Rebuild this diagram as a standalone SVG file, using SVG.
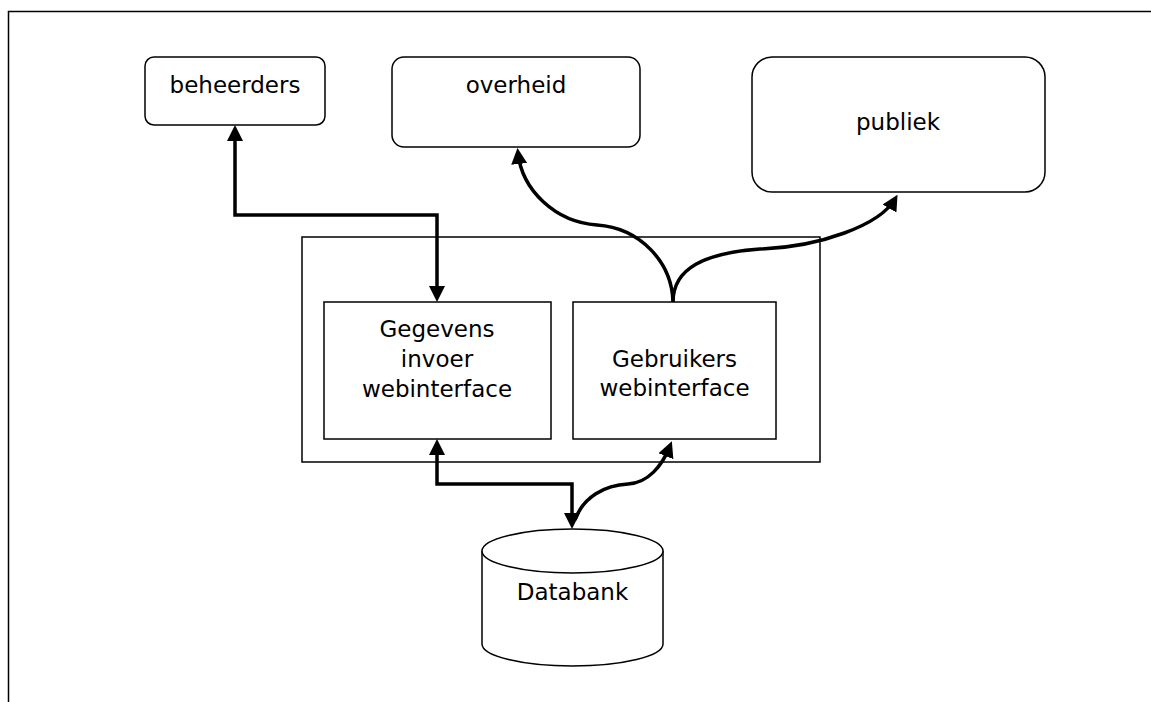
<svg xmlns="http://www.w3.org/2000/svg" width="1151" height="702" viewBox="0 0 1151 702">
<style>
.box{fill:#fff;stroke:#000;stroke-width:1.5}
.lbl{font-family:"DejaVu Sans",Verdana,sans-serif;font-size:23px;fill:#000;text-anchor:middle}
.con{fill:none;stroke:#000;stroke-width:3.5}
.frame{fill:none;stroke:#000;stroke-width:1.5}
</style>
<defs>
<marker id="ah" markerUnits="userSpaceOnUse" markerWidth="16" markerHeight="16" viewBox="0 0 16 16" refX="11" refY="8" orient="auto-start-reverse">
<path d="M0,0 L16,8 L0,16 Z" fill="#000"/>
</marker>
</defs>
<rect width="1151" height="702" fill="#fff"/>
<path class="frame" d="M8.5,702 V11.5 H1151"/>
<g id="beheerders">
<rect class="box" x="145" y="57" width="180" height="68" rx="9"/>
<text class="lbl" x="235" y="93">beheerders</text>
</g>
<g id="overheid">
<rect class="box" x="392" y="57" width="248" height="90" rx="12"/>
<text class="lbl" x="516" y="93">overheid</text>
</g>
<g id="publiek">
<rect class="box" x="752" y="57" width="293" height="135" rx="20"/>
<text class="lbl" x="898" y="130">publiek</text>
</g>
<g id="container">
<rect class="box" x="302" y="237" width="518" height="225"/>
</g>
<g id="gegevens">
<rect class="box" x="324" y="302" width="227" height="137"/>
<text class="lbl" x="437" y="337">Gegevens</text>
<text class="lbl" x="437" y="367">invoer</text>
<text class="lbl" x="437" y="397">webinterface</text>
</g>
<g id="gebruikers">
<rect class="box" x="573" y="302" width="203" height="137"/>
<text class="lbl" x="674.5" y="367">Gebruikers</text>
<text class="lbl" x="674.5" y="396">webinterface</text>
</g>
<g id="databank">
<path class="box" d="M482,551 A90.5,22 0 0,1 663,551 V644 A90.5,22 0 0,1 482,644 Z"/>
<path class="box" fill="none" d="M482,551 A90.5,22 0 0,0 663,551"/>
<text class="lbl" x="572.5" y="600">Databank</text>
</g>
<g id="connectors">
<path class="con" d="M235,130 V215 H437 V297" marker-start="url(#ah)" marker-end="url(#ah)"/>
<path class="con" d="M437,444 V484 H572 V524" marker-start="url(#ah)" marker-end="url(#ah)"/>
<path class="con" d="M575,520 C583,497 605,485 628,484 C648,483 662,466 670,446" marker-end="url(#ah)"/>
<path class="con" d="M673,302 C672,262 640,228 597,225 C555,222 522,190 518,153" marker-end="url(#ah)"/>
<path class="con" d="M673,302 C673,268 705,253 760,249 C820,247 880,225 895,199" marker-end="url(#ah)"/>
</g>
</svg>
